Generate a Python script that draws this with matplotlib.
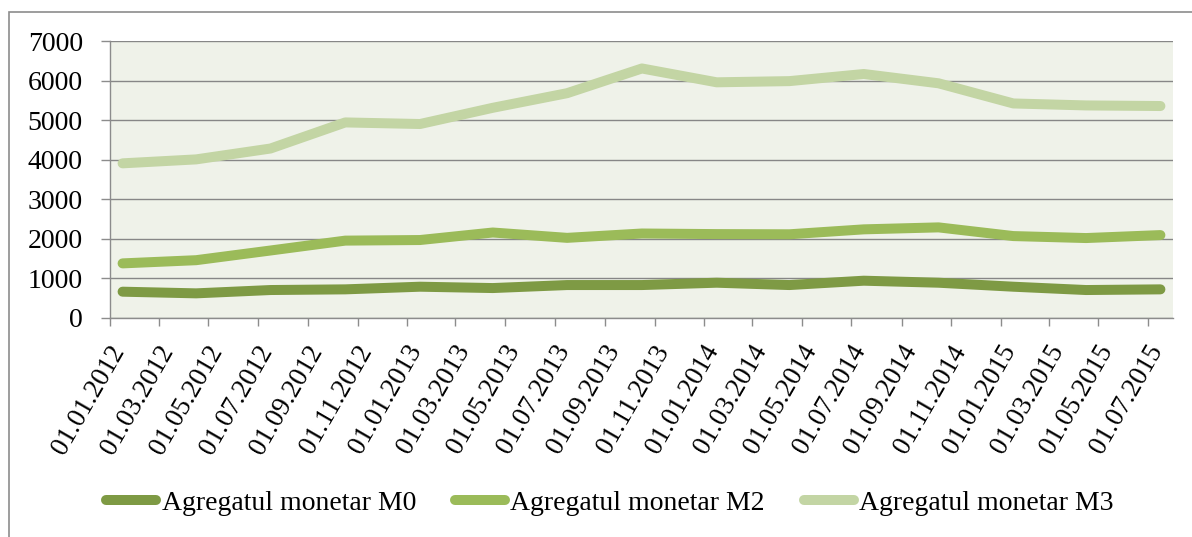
import matplotlib
matplotlib.use("Agg")
import matplotlib.pyplot as plt
import matplotlib.transforms as mtransforms
from matplotlib.patches import Rectangle
import pandas as pd

# ---- data (quarterly observations) ----
dates = ["01.01.2012", "01.04.2012", "01.07.2012", "01.10.2012",
         "01.01.2013", "01.04.2013", "01.07.2013", "01.10.2013",
         "01.01.2014", "01.04.2014", "01.07.2014", "01.10.2014",
         "01.01.2015", "01.04.2015", "01.07.2015"]
m0 = [658, 616, 700, 717, 784, 750, 826, 826, 885, 826, 936, 885, 784, 700, 717]
m2 = [1374, 1455, 1700, 1950, 1965, 2155, 2020, 2130, 2115, 2110, 2235, 2285, 2065, 2015, 2090]
m3 = [3905, 4005, 4280, 4940, 4900, 5310, 5680, 6305, 5955, 5985, 6165, 5930, 5420, 5370, 5355]
series_names = ["Agregatul monetar M0", "Agregatul monetar M2", "Agregatul monetar M3"]
series_colors = ["#7E9A44", "#9BBB59", "#C3D5A4"]
tick_labels = ["01.01.2012", "01.03.2012", "01.05.2012", "01.07.2012", "01.09.2012",
               "01.11.2012", "01.01.2013", "01.03.2013", "01.05.2013", "01.07.2013",
               "01.09.2013", "01.11.2013", "01.01.2014", "01.03.2014", "01.05.2014",
               "01.07.2014", "01.09.2014", "01.11.2014", "01.01.2015", "01.03.2015",
               "01.05.2015", "01.07.2015"]
y_ticks = [0, 1000, 2000, 3000, 4000, 5000, 6000, 7000]

plt.rcParams["font.family"] = ["Liberation Serif", "DejaVu Serif"]

W, H = 1192, 537
fig = plt.figure(figsize=(W / 100, H / 100), dpi=100)

# outer chart frame
fig.patches.append(Rectangle((8.5 / W, -0.1), 1.2, 1 - 11.5 / H + 0.1,
                             transform=fig.transFigure, fill=False,
                             edgecolor="#8C8C8C", linewidth=1.2))

left, right, top, bottom = 110, 1173, 41, 317.7
ax = fig.add_axes([left / W, 1 - bottom / H, (right - left) / W, (bottom - top) / H])
ax.set_facecolor("#EFF2E9")

d = pd.to_datetime(dates, format="%d.%m.%Y")
x = d + (d + pd.offsets.MonthBegin(1) - d) / 2  # middle of month slot

for vals, name, col in zip([m0, m2, m3], series_names, series_colors):
    ax.plot(x, vals, color=col, lw=7.2, solid_capstyle="round",
            solid_joinstyle="round", label=name, zorder=3)

ax.set_ylim(0, 7000)
ax.set_yticks(y_ticks)
ax.set_xlim(pd.Timestamp("2012-01-01"), pd.Timestamp("2015-08-01"))
tick_pos = pd.to_datetime(tick_labels, format="%d.%m.%Y")
ax.set_xticks(tick_pos)
ax.tick_params(axis="y", labelsize=20, length=6.5, width=1, color="#8C8C8C", pad=13)
ax.tick_params(axis="x", length=5.5, width=1, color="#8C8C8C", pad=11)
ax.set_xticklabels(tick_labels, rotation=60, ha="right", fontsize=19.5)
shift = mtransforms.ScaledTranslation(20 / 100, 0, fig.dpi_scale_trans)
for lab in ax.get_xticklabels():
    lab.set_transform(lab.get_transform() + shift)

ax.grid(axis="y", color="#878787", linewidth=1.0, zorder=1)
ax.set_axisbelow(True)
for s in ["top", "right"]:
    ax.spines[s].set_visible(False)
for s in ["left", "bottom"]:
    ax.spines[s].set_color("#8C8C8C")
    ax.spines[s].set_linewidth(1.0)

leg = fig.legend(loc="center", bbox_to_anchor=(610 / W, 1 - 503 / H), ncol=3,
                 frameon=False, fontsize=20, handlelength=1.8, handletextpad=0.2,
                 columnspacing=1.4, borderaxespad=0)

fig.savefig("out.png", dpi=100)
